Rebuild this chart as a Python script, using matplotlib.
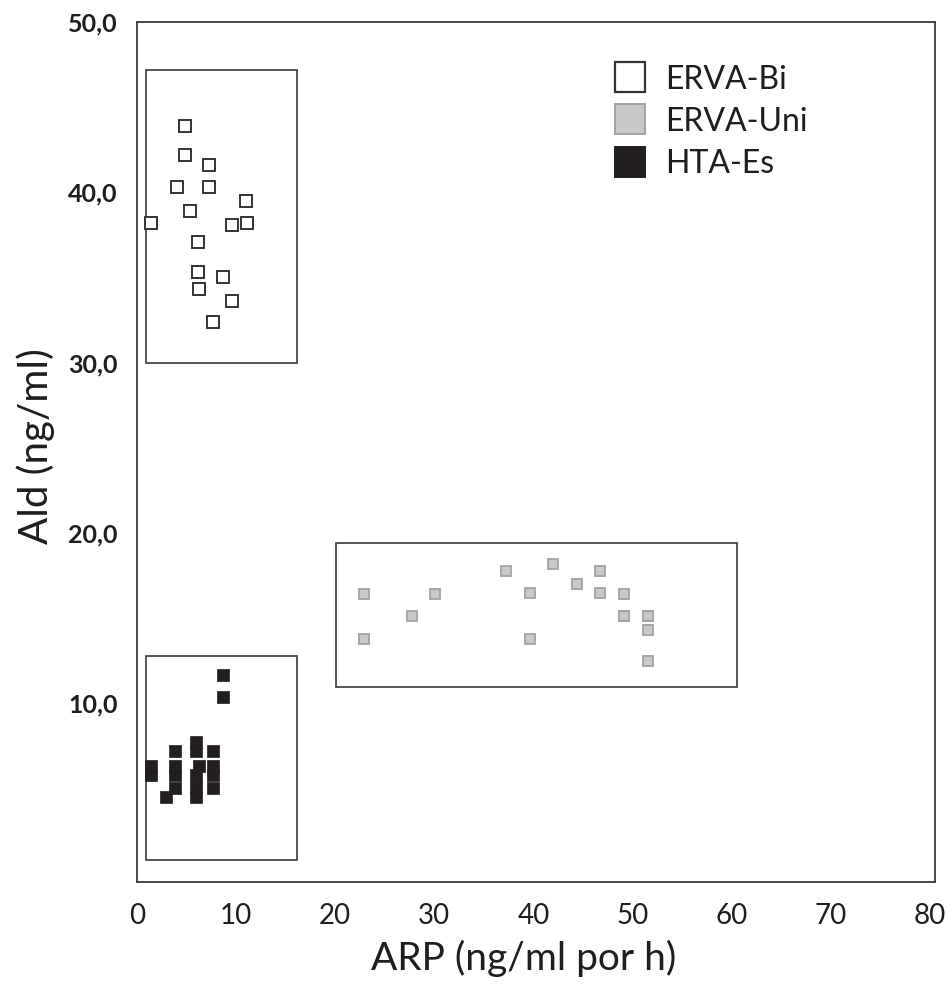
import numpy as np
import matplotlib.pyplot as plt
from matplotlib.patches import Rectangle
from matplotlib.lines import Line2D

# ERVA-Bi (cuadrados blancos)
bi_x = [4.85, 4.85, 7.3, 4.0, 7.3, 11.0, 5.3, 1.4, 9.6, 11.1, 6.2, 6.2, 8.7, 6.3, 9.6, 7.7]
bi_y = [43.9, 42.2, 41.6, 40.3, 40.3, 39.5, 38.9, 38.2, 38.1, 38.2, 37.1, 35.3, 35.0, 34.3, 33.6, 32.4]

# ERVA-Uni (cuadrados grises)
uni_x = [22.9, 22.9, 27.7, 30.1, 37.2, 39.6, 39.6, 42.0, 44.4, 46.75, 46.75, 49.1, 49.1, 51.5, 51.5, 51.5]
uni_y = [16.4, 13.75, 15.1, 16.4, 17.75, 16.45, 13.75, 18.2, 17.0, 17.75, 16.45, 16.4, 15.1, 15.1, 14.3, 12.5]

# HTA-Es (cuadrados negros)
es_x = [8.7, 8.7, 1.4, 1.4, 3.8, 3.8, 3.8, 3.8, 2.9, 6.0, 6.0, 6.3, 6.0, 6.0, 6.0, 7.7, 7.7, 7.7, 7.7]
es_y = [11.65, 10.35, 6.3, 5.8, 7.2, 6.3, 5.8, 5.0, 4.5, 7.7, 7.2, 6.3, 5.8, 5.1, 4.5, 7.2, 6.3, 5.8, 5.0]

# Recuadros de cada grupo: (x0, y0, x1, y1)
boxes = [(0.9, 30.0, 16.1, 47.2), (20.1, 10.95, 60.5, 19.4), (0.9, 0.8, 16.1, 12.8)]

labels = ["ERVA-Bi", "ERVA-Uni", "HTA-Es"]
xticks = [0, 10, 20, 30, 40, 50, 60, 70, 80]
yticks = [10, 20, 30, 40, 50]
ytick_labels = ["10,0", "20,0", "30,0", "40,0", "50,0"]

dark = "#3a3a3a"
txt = "#1e1e1e"

fig = plt.figure(figsize=(9.47, 9.85), dpi=100)
ax = fig.add_axes([137/947, 1 - 882/985, 798/947, 860/985])

ax.plot(bi_x, bi_y, "s", ms=8, mfc="white", mec="#333333", mew=1.4, ls="none")
ax.plot(uni_x, uni_y, "s", ms=7.8, mfc="#c8c8c8", mec="#a3a3a3", mew=1.3, ls="none")
ax.plot(es_x, es_y, "s", ms=8, mfc="#231f20", mec="#231f20", mew=0.5, ls="none")

for x0, y0, x1, y1 in boxes:
    ax.add_patch(Rectangle((x0, y0), x1 - x0, y1 - y0, fill=False,
                           ec=dark, lw=1.2, zorder=1))

ax.set_xlim(0, 80.5)
ax.set_ylim(-0.5, 50)
ax.set_xticks(xticks)
ax.set_xticklabels([str(v) for v in xticks], fontfamily="Lato", fontsize=20, color=txt)
ax.set_yticks(yticks)
ax.set_yticklabels(ytick_labels, fontfamily="Lato", fontweight="bold", fontsize=18, color=txt)
ax.tick_params(axis="both", length=0)
ax.tick_params(axis="x", pad=15)
ax.tick_params(axis="y", pad=14)

for s in ax.spines.values():
    s.set_color(dark)
    s.set_linewidth(1.3)

ax.set_xlabel("ARP (ng/ml por h)", fontfamily="Lato", fontsize=28, color=txt, labelpad=8)
ax.set_ylabel("Ald (ng/ml)", fontfamily="Lato", fontsize=29, color=txt, labelpad=9)
ax.xaxis.label.set_x(0.485)
ax.yaxis.label.set_y(0.507)

handles = [
    Line2D([], [], marker="s", ls="none", ms=21, mfc="white", mec="#333333", mew=1.6),
    Line2D([], [], marker="s", ls="none", ms=21, mfc="#c8c8c8", mec="#a3a3a3", mew=1.4),
    Line2D([], [], marker="s", ls="none", ms=21, mfc="#231f20", mec="#231f20", mew=1.4),
]
leg = ax.legend(handles, labels, loc="upper left", bbox_to_anchor=(0.56, 0.984),
                frameon=False, prop={"family": "Lato", "size": 23},
                handlelength=1.1, handletextpad=0.55, labelspacing=0.38)
for t in leg.get_texts():
    t.set_color(txt)

fig.savefig("out.png", dpi=100)
